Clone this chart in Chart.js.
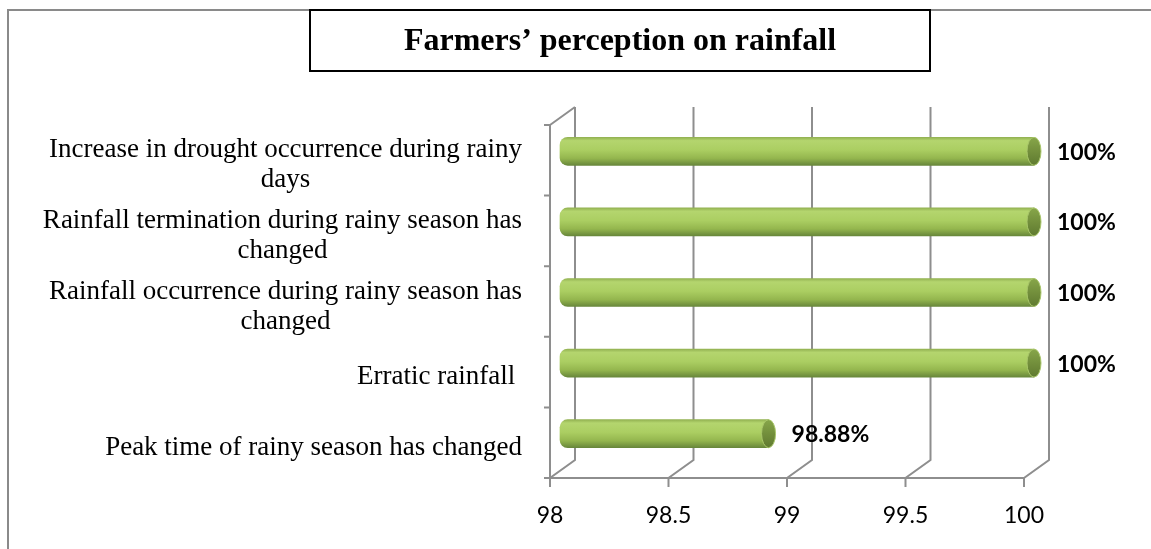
<!DOCTYPE html>
<html>
<head>
<meta charset="utf-8">
<script src="https://cdn.jsdelivr.net/npm/chart.js@4.4.1/dist/chart.umd.min.js"></script>
<style>
  html, body { margin: 0; padding: 0; background: #ffffff; }
  #wrap { width: 1151px; height: 549px; position: relative; }
</style>
</head>
<body>
<div id="wrap"><canvas id="chart" width="1151" height="549"></canvas></div>
<script>
// Data
const categories = [
  ["Increase in drought occurrence during rainy", "days"],
  ["Rainfall termination during rainy season has", "changed"],
  ["Rainfall occurrence during rainy season has", "changed"],
  ["Erratic rainfall "],
  ["Peak time of rainy season has changed"]
];
const values = [100, 100, 100, 100, 98.88];
const valueLabels = ["100%", "100%", "100%", "100%", "98.88%"];
const xMin = 98;
const xMax = 100;
const xStep = 0.5;
const chartTitle = "Farmers’ perception on rainfall";

// 3D look: depth of the walls and floor
const DEPTH_X = 25;
const DEPTH_Y = 18;
const BAR_DX = 10;
const BAR_DY = 9;
const GRID = "#8e8e8e";

// Draw the back wall, side wall and floor like Excel's 3D bar
const wallsPlugin = {
  id: "walls",
  beforeDatasetsDraw(chart) {
    const { ctx, chartArea: a, scales } = chart;
    const x = scales.x;
    ctx.save();
    ctx.strokeStyle = GRID;
    ctx.lineWidth = 2;
    ctx.beginPath();
    // front left edge + top diagonal
    ctx.moveTo(a.left, a.top);
    ctx.lineTo(a.left, a.bottom);
    ctx.moveTo(a.left, a.top);
    ctx.lineTo(a.left + DEPTH_X, a.top - DEPTH_Y);
    // floor front edge
    ctx.moveTo(a.left - 6, a.bottom);
    ctx.lineTo(a.right, a.bottom);
    // category tick marks
    const n = categories.length;
    const step = (a.bottom - a.top) / n;
    for (let k = 0; k < n; k++) {
      const yy = a.top + k * step;
      ctx.moveTo(a.left - 6, yy);
      ctx.lineTo(a.left, yy);
    }
    // value grid lines on back wall and floor
    x.ticks.forEach((t) => {
      const px = x.getPixelForValue(t.value);
      ctx.moveTo(px + DEPTH_X, a.top - DEPTH_Y);
      ctx.lineTo(px + DEPTH_X, a.bottom - DEPTH_Y);
      ctx.lineTo(px, a.bottom);
      ctx.lineTo(px, a.bottom + 9);
    });
    ctx.stroke();
    ctx.restore();

    // bars sit in the middle of the depth
    ctx.save();
    ctx.translate(BAR_DX, -BAR_DY);
  },
  afterDatasetsDraw(chart) {
    const { ctx } = chart;
    ctx.restore();
    const meta = chart.getDatasetMeta(0);
    meta.data.forEach((bar, i) => {
      const ex = bar.x + BAR_DX;
      const ey = bar.y - BAR_DY;
      const h = bar.height;
      // end cap of the cylinder
      const g = ctx.createLinearGradient(0, ey - h / 2, 0, ey + h / 2);
      g.addColorStop(0, "#87a64a");
      g.addColorStop(0.5, "#738f3c");
      g.addColorStop(1, "#5f7a30");
      ctx.save();
      ctx.beginPath();
      ctx.ellipse(ex, ey, 7, h / 2, 0, 0, Math.PI * 2);
      ctx.fillStyle = g;
      ctx.fill();
      ctx.strokeStyle = "#a9c66a";
      ctx.lineWidth = 1;
      ctx.stroke();
      ctx.restore();
      // value label
      ctx.save();
      ctx.font = "bold 23px Lato";
      ctx.fillStyle = "#000000";
      ctx.textAlign = "left";
      ctx.textBaseline = "middle";
      ctx.fillText(valueLabels[i], ex + 23, ey + 1);
      ctx.restore();
    });
  }
};

// Title box, outer frame and wrapped category labels
const decorPlugin = {
  id: "decor",
  afterDraw(chart) {
    const { ctx, chartArea: a, scales } = chart;
    ctx.save();
    // outer frame (only top and left visible)
    ctx.strokeStyle = "#8a8a8a";
    ctx.lineWidth = 2;
    ctx.beginPath();
    ctx.moveTo(8, 549);
    ctx.lineTo(8, 10);
    ctx.lineTo(1151, 10);
    ctx.stroke();
    // title box
    ctx.fillStyle = "#ffffff";
    ctx.fillRect(310, 10, 620, 61);
    ctx.strokeStyle = "#000000";
    ctx.lineWidth = 2;
    ctx.strokeRect(310, 10, 620, 61);
    ctx.fillStyle = "#000000";
    ctx.font = "bold 32px 'Liberation Serif'";
    ctx.textAlign = "center";
    ctx.textBaseline = "middle";
    ctx.fillText(chartTitle, 620, 42);

    // category labels: block right aligned, lines centred inside it
    ctx.font = "27px 'Liberation Serif'";
    const lineH = 30;
    const right = a.left - 28;
    categories.forEach((lines, i) => {
      const cy = scales.y.getPixelForValue(i) + 5;
      const w = Math.max(...lines.map((l) => ctx.measureText(l).width));
      const cx = right - w / 2;
      const y0 = cy - ((lines.length - 1) * lineH) / 2;
      lines.forEach((l, j) => {
        ctx.fillText(l, cx, y0 + j * lineH);
      });
    });
    ctx.restore();
  }
};

const ctx = document.getElementById("chart");

function barFill(context) {
  const chart = context.chart;
  const y = chart.scales.y;
  if (!y || typeof context.dataIndex !== "number") return "#a6c85e";
  const cy = y.getPixelForValue(context.dataIndex);
  if (!isFinite(cy)) return "#a6c85e";
  const g = chart.ctx.createLinearGradient(0, cy - 14, 0, cy + 14);
  g.addColorStop(0, "#93b252");
  g.addColorStop(0.12, "#b4d56e");
  g.addColorStop(0.45, "#abce62");
  g.addColorStop(0.75, "#94b64e");
  g.addColorStop(1, "#68873b");
  return g;
}

const myChart = new Chart(ctx, {
  type: "bar",
  data: {
    labels: categories,
    datasets: [
      {
        data: values,
        base: xMin,
        backgroundColor: barFill,
        borderWidth: 0,
        barThickness: 28,
        borderRadius: { topLeft: 8, bottomLeft: 8, topRight: 0, bottomRight: 0 },
        borderSkipped: false,
        clip: false,
      },
    ],
  },
  options: {
    indexAxis: "y",
    responsive: false,
    animation: false,
    devicePixelRatio: 1,
    layout: { padding: { left: 550, right: 127, top: 125, bottom: 0 } },
    plugins: {
      legend: { display: false },
      tooltip: { enabled: false },
      title: { display: false },
    },
    scales: {
      x: {
        min: xMin,
        max: xMax,
        ticks: {
          stepSize: xStep,
          color: "#000000",
          font: { family: "Lato", size: 23 },
          padding: 24,
          callback: (v) => String(Number(v)),
        },
        grid: { display: false, drawTicks: false },
        border: { display: false },
        afterFit: (s) => { s.height = 71; },
      },
      y: {
        display: false,
      },
    },
  },
  plugins: [wallsPlugin, decorPlugin],
});
</script>
</body>
</html>
